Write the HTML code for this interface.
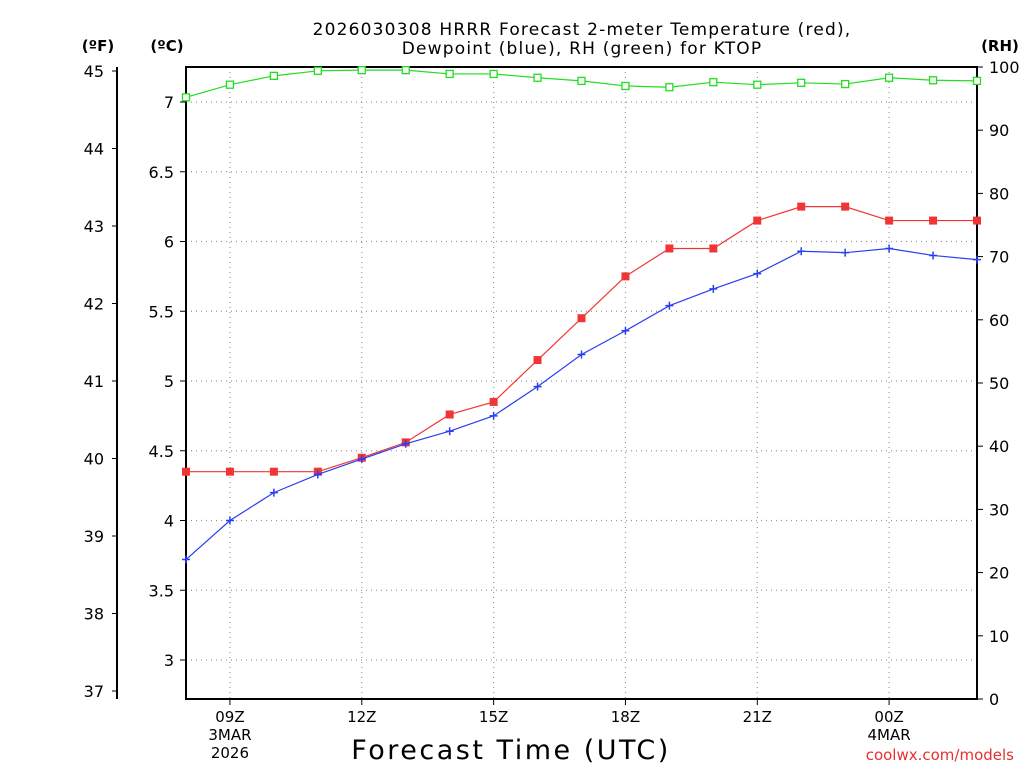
<!DOCTYPE html>
<html><head><meta charset="utf-8"><style>
html,body{margin:0;padding:0;background:#fff;}
svg{display:block;font-family:"DejaVu Sans","Liberation Sans",sans-serif;}
</style></head><body>
<svg id="chart" width="1024" height="768" viewBox="0 0 1024 768">
<text x="582" y="35" text-anchor="middle" font-size="17" letter-spacing="1.2">2026030308 HRRR Forecast 2-meter Temperature (red),</text>
<text x="582" y="54" text-anchor="middle" font-size="17" letter-spacing="1.2">Dewpoint (blue), RH (green) for KTOP</text>
<text x="98" y="51" text-anchor="middle" font-size="15" font-weight="bold">(ºF)</text>
<text x="167" y="51" text-anchor="middle" font-size="15" font-weight="bold">(ºC)</text>
<text x="1000" y="51" text-anchor="middle" font-size="15" font-weight="bold">(RH)</text>
<text x="511" y="759" text-anchor="middle" font-size="27" letter-spacing="2.5">Forecast Time (UTC)</text>
<text x="1014" y="760" text-anchor="end" font-size="15" fill="#e83030">coolwx.com/models</text>
<g id="grid"></g><g id="axes"></g><g id="series"></g>
</svg>
<script>
const hours = ["08Z","09Z","10Z","11Z","12Z","13Z","14Z","15Z","16Z","17Z","18Z","19Z","20Z","21Z","22Z","23Z","00Z","01Z","02Z"];
const tempC = [4.35,4.35,4.35,4.35,4.45,4.56,4.76,4.85,5.15,5.45,5.75,5.95,5.95,6.15,6.25,6.25,6.15,6.15,6.15];
const dewC = [3.72,4.0,4.2,4.33,4.44,4.55,4.64,4.75,4.96,5.19,5.36,5.54,5.66,5.77,5.93,5.92,5.95,5.9,5.87];
const rh = [95.2,97.2,98.6,99.4,99.5,99.5,98.9,98.9,98.3,97.8,97.0,96.8,97.6,97.2,97.5,97.3,98.3,97.9,97.8];
const cTicks = [3,3.5,4,4.5,5,5.5,6,6.5,7];
const fTicks = [37,38,39,40,41,42,43,44,45];
const rhTicks = [0,10,20,30,40,50,60,70,80,90,100];
const xLabelIdx = [1,4,7,10,13,16];
const xSub = {1:["3MAR","2026"],16:["4MAR"]};

const NS="http://www.w3.org/2000/svg";
const L=186,R=977,T=67,B=699;
const x=i=>L+i*(R-L)/(hours.length-1);
const yC=c=>102+(7-c)*139.5;
const yF=f=>yC((f-32)*5/9);
const yR=v=>B-v*(B-T)/100;
function mk(tag,attrs,parent,txt){const e=document.createElementNS(NS,tag);for(const k in attrs)e.setAttribute(k,attrs[k]);if(txt!==undefined)e.textContent=txt;document.getElementById(parent).appendChild(e);return e;}

cTicks.forEach(c=>{
 const g=mk('line',{x1:L,x2:R,y1:yC(c),y2:yC(c),stroke:'#999','stroke-dasharray':'1,4','stroke-width':1.2},'grid');
 
 
 const t=mk('line',{x1:L-6,x2:L,y1:yC(c),y2:yC(c),stroke:'#000'},'axes');
 
 
 const lb=mk('text',{x:L-12,y:yC(c)+6,'text-anchor':'end','font-size':16},'axes',String(c));
 
 
});
fTicks.forEach(f=>{
 const t=mk('line',{x1:112,x2:117,y1:yF(f),y2:yF(f),stroke:'#000'},'axes');
 
 
 const lb=mk('text',{x:104,y:yF(f)+6,'text-anchor':'end','font-size':16},'axes',String(f));
 
 
});
rhTicks.forEach(v=>{
 const t=mk('line',{x1:R,x2:R+6,y1:yR(v),y2:yR(v),stroke:'#000'},'axes');
 
 
 const lb=mk('text',{x:R+12,y:yR(v)+6,'font-size':16},'axes',String(v));
 
 
});
xLabelIdx.forEach(i=>{
 const g=mk('line',{x1:x(i),x2:x(i),y1:T,y2:B,stroke:'#999','stroke-dasharray':'1,4','stroke-width':1.2},'grid');
 
 
 const t=mk('line',{x1:x(i),x2:x(i),y1:B,y2:B+6,stroke:'#000'},'axes');
 
 
 const lb=mk('text',{x:x(i),y:722,'text-anchor':'middle','font-size':15},'axes',hours[i]);
 
 
 (xSub[i]||[]).forEach((s,k)=>{
  const sl=mk('text',{x:x(i),y:740+k*18,'text-anchor':'middle','font-size':15},'axes',s);
  
  
 });
});
const fr=mk('rect',{x:L,y:T,width:R-L,height:B-T,fill:'none',stroke:'#000','stroke-width':2},'axes');


const fa=mk('line',{x1:117,x2:117,y1:T,y2:B,stroke:'#000','stroke-width':2},'axes');



function series(vals,yf,color,name,marker){
 const pts=vals.map((v,i)=>x(i)+','+yf(v)).join(' ');
 const pl=mk('polyline',{points:pts,fill:'none',stroke:color,'stroke-width':1.2},'series');
 
 
 vals.forEach((v,i)=>{
  const cx=x(i),cy=yf(v);let m;
  if(marker==='fill'){m=mk('rect',{x:cx-4,y:cy-4,width:8,height:8,fill:color},'series');}
  else if(marker==='open'){m=mk('rect',{x:cx-3.5,y:cy-3.5,width:7,height:7,fill:'#fff',stroke:color,'stroke-width':1.3},'series');}
  else{m=mk('path',{d:`M${cx-4},${cy}H${cx+4}M${cx},${cy-4}V${cy+4}`,stroke:color,'stroke-width':1.5},'series');}
  
  
 });
}
series(rh,yR,'#22dd22','rh','open');
series(tempC,yC,'#f03535','temperature','fill');
series(dewC,yC,'#2a3ff0','dewpoint','plus');
</script>
</body></html>
